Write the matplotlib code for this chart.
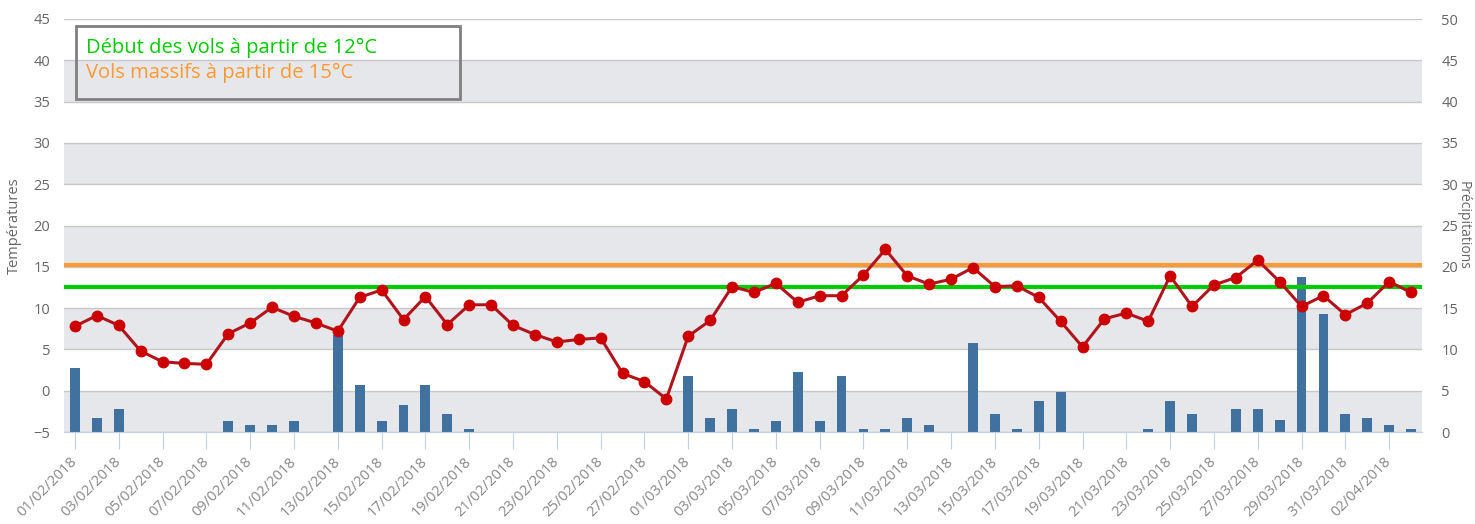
import matplotlib
matplotlib.use("Agg")
import matplotlib.pyplot as plt
import numpy as np
import datetime as dt
from matplotlib.patches import Rectangle

# ---- data ----
start = dt.date(2018, 2, 1)
dates = [(start + dt.timedelta(days=i)).strftime("%d/%m/%Y") for i in range(62)]

temperatures = [7.8, 9.1, 7.9, 4.8, 3.5, 3.3, 3.2, 6.9, 8.2, 10.1,
                9.0, 8.2, 7.2, 11.3, 12.2, 8.6, 11.4, 8.0, 10.4, 10.4,
                7.9, 6.8, 5.9, 6.2, 6.4, 2.1, 1.1, -1.0, 6.6, 8.5,
                12.6, 11.9, 13.0, 10.7, 11.5, 11.5, 14.0, 17.1, 13.9, 12.9,
                13.5, 14.9, 12.6, 12.7, 11.3, 8.4, 5.3, 8.7, 9.4, 8.4,
                13.9, 10.2, 12.8, 13.7, 15.8, 13.2, 10.2, 11.5, 9.2, 10.6,
                13.2, 11.9]

precipitations = [7.8, 1.7, 2.8, 0, 0, 0, 0, 1.3, 0.85, 0.85,
                  1.3, 0, 11.8, 5.7, 1.3, 3.3, 5.7, 2.2, 0.35, 0,
                  0, 0, 0, 0, 0, 0, 0, 0, 6.8, 1.7,
                  2.8, 0.35, 1.3, 7.3, 1.3, 6.8, 0.35, 0.35, 1.7, 0.85,
                  0, 10.8, 2.2, 0.35, 3.8, 4.9, 0, 0, 0, 0.35,
                  3.8, 2.2, 0, 2.8, 2.8, 1.4, 18.8, 14.3, 2.2, 1.7,
                  0.85, 0.35]

seuil_debut = 12.6
seuil_massif = 15.2
temp_ticks = list(range(-5, 50, 5))
prec_ticks = list(range(0, 55, 5))

legend_lines = ["Début des vols à partir de 12°C", "Vols massifs à partir de 15°C"]

# ---- style ----
plt.rcParams['font.family'] = ['Open Sans', 'DejaVu Sans']
label_color = "#666666"
band_color = "#E6E7EB"
grid_color = "#C8C8C8"
bar_color = "#41719F"
line_color = "#B0141C"
marker_color = "#CC0000"

fig = plt.figure(figsize=(14.75, 5.24), dpi=100)
ax = fig.add_axes([64/1475, 1-432/524, (1422-64)/1475, (432-19)/524])
ax2 = ax.twinx()
ax2.set_zorder(1)
ax.set_zorder(2)
ax.patch.set_visible(False)
ax2.patch.set_facecolor("white")

x = np.arange(len(dates))

# background bands & grid on precip axis
for lo in prec_ticks[::2][:-1]:
    ax2.axhspan(lo, lo + 5, color=band_color, zorder=0, lw=0)
for t in prec_ticks:
    ax2.axhline(t, color=grid_color, lw=1, zorder=0.5)

ax2.bar(x, precipitations, width=0.45, color=bar_color, zorder=2)
ax2.set_ylim(0, 50)
ax2.set_yticks(prec_ticks)

ax.plot(x, temperatures, color=line_color, lw=2.2, marker='o', ms=7.5,
        markerfacecolor=marker_color, markeredgecolor=marker_color, zorder=3)
ax.axhline(seuil_massif, color="#FF9933", lw=3, zorder=2)
ax.axhline(seuil_debut, color="#00CC00", lw=3, zorder=2)
ax.set_ylim(-5, 45)
ax.set_yticks(temp_ticks)
ax.set_xlim(-0.5, len(dates) - 0.5)

ax.set_xticks(x[::2])
ax.set_xticklabels(dates[::2], rotation=45, ha='right', va='center',
                   rotation_mode='anchor', fontsize=10.5, color="#888888")
ax.tick_params(axis='x', length=12, color="#C0D0E0", pad=8)
ax2.tick_params(axis='x', length=0)
ax.tick_params(axis='y', length=0, labelsize=10.5, labelcolor=label_color, pad=10)
ax2.tick_params(axis='y', length=0, labelsize=10.5, labelcolor=label_color, pad=14)

for a in (ax, ax2):
    for s in a.spines.values():
        s.set_visible(False)
ax.spines['bottom'].set_visible(True)
ax.spines['bottom'].set_color("#C0D0E0")

ax.set_ylabel("Températures", color=label_color, fontsize=10.5, labelpad=8)
ax2.set_ylabel("Précipitations", color=label_color, fontsize=10, rotation=270, labelpad=9)

# legend box
box = Rectangle((76/1475, 1-99/524), (460-76)/1475, (99-26)/524, transform=fig.transFigure,
                fill=False, edgecolor="#808080", lw=2, zorder=10)
fig.patches.append(box)
fig.text(86/1475, 1-48/524, legend_lines[0], color="#00CC00", fontsize=14.5, va='center')
fig.text(86/1475, 1-73/524, legend_lines[1], color="#FF9933", fontsize=14.5, va='center')

fig.savefig("out.png", dpi=100)
